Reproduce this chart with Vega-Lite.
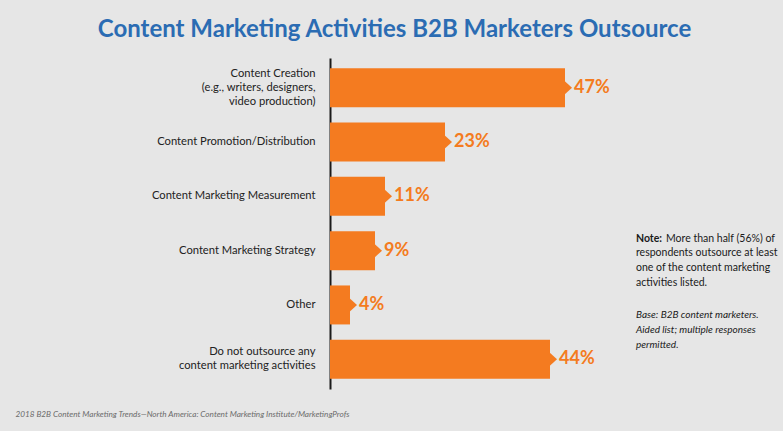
{
  "$schema": "https://vega.github.io/schema/vega-lite/v6.json",
  "autosize": "none",
  "width": 453,
  "height": 331,
  "padding": {"left": 330, "top": 58, "right": 0, "bottom": 42},
  "background": "#e6e6e6",
  "config": {"view": {"stroke": null}},
  "title": {
    "text": "Content Marketing Activities B2B Marketers Outsource",
    "font": "Lato", "fontSize": 24, "fontWeight": "bold", "color": "#2b6cb3",
    "anchor": "middle", "frame": "group", "dx": -162, "dy": 23, "offset": 20, "baseline": "alphabetic"
  },
  "datasets": {
    "main": [
      {"activity": "Content Creation\n(e.g., writers, designers,\nvideo production)", "share": 0.47},
      {"activity": "Content Promotion/Distribution", "share": 0.23},
      {"activity": "Content Marketing Measurement", "share": 0.11},
      {"activity": "Content Marketing Strategy", "share": 0.09},
      {"activity": "Other", "share": 0.04},
      {"activity": "Do not outsource any\ncontent marketing activities", "share": 0.44}
    ]
  },
  "layer": [
    {
      "data": {"name": "main"},
      "mark": {"type": "bar", "color": "#f47b20"},
      "encoding": {
        "y": {
          "field": "activity", "type": "nominal", "sort": null,
          "scale": {"paddingInner": 0.282, "paddingOuter": 0.189},
          "axis": {
            "title": null, "domain": true, "domainColor": "#1a1a1a", "domainWidth": 2,
            "ticks": false, "grid": false, "labelFont": "Lato", "labelFontSize": 11.2,
            "labelColor": "#222222", "labelPadding": 15, "labelLineHeight": 14, "labelLimit": 0,
            "labelExpr": "split(datum.label, '\\n')",
            "labelOffset": {
              "condition": [
                {"test": "length(split(datum.value, '\\n')) == 3", "value": -14},
                {"test": "length(split(datum.value, '\\n')) == 2", "value": -7}
              ],
              "value": 0
            }
          }
        },
        "x": {
          "field": "share", "type": "quantitative",
          "scale": {"domain": [0, 0.906], "nice": false},
          "axis": {
            "labels": false, "ticks": false, "domain": false, "grid": false,
            "title": "2018 B2B Content Marketing Trends\u2014North America: Content Marketing Institute/MarketingProfs",
            "titleX": -315, "titleY": 25, "titleAlign": "left", "titleBaseline": "middle",
            "titleFont": "Lato", "titleFontStyle": "italic", "titleFontWeight": "normal",
            "titleFontSize": 8.2, "titleColor": "#6b6b6b"
          }
        }
      }
    },
    {
      "data": {"name": "main"},
      "mark": {"type": "point", "shape": "M -0.1 -1 L 1 0 L -0.1 1 Z", "size": 196, "filled": true, "color": "#f47b20", "opacity": 1},
      "encoding": {
        "y": {"field": "activity", "type": "nominal", "sort": null},
        "x": {"field": "share", "type": "quantitative"}
      }
    },
    {
      "data": {"name": "main"},
      "mark": {"type": "text", "align": "left", "baseline": "middle", "dx": 9, "font": "Lato", "fontSize": 18, "fontWeight": "bold", "color": "#f47b20"},
      "encoding": {
        "y": {"field": "activity", "type": "nominal", "sort": null},
        "x": {"field": "share", "type": "quantitative"},
        "text": {"field": "share", "type": "quantitative", "format": ".0%"}
      }
    },
    {
      "data": {"values": [{"note": "Note:"}]},
      "mark": {"type": "text", "align": "left", "baseline": "middle", "dy": -12, "font": "Lato", "fontSize": 10.5, "fontWeight": "bold", "color": "#1a1a1a"},
      "encoding": {
        "x": {"datum": 0.612, "type": "quantitative"},
        "y": {"datum": "Content Marketing Strategy", "type": "nominal"},
        "text": {"field": "note"}
      }
    },
    {
      "data": {"values": [{"note": "More than half (56%) of"}]},
      "mark": {"type": "text", "align": "left", "baseline": "middle", "dy": -12, "dx": 30, "font": "Lato", "fontSize": 10.5, "color": "#1a1a1a"},
      "encoding": {
        "x": {"datum": 0.612, "type": "quantitative"},
        "y": {"datum": "Content Marketing Strategy", "type": "nominal"},
        "text": {"field": "note"}
      }
    },
    {
      "data": {"values": [{"note": "respondents outsource at least\none of the content marketing\nactivities listed."}]},
      "mark": {"type": "text", "align": "left", "baseline": "top", "dy": -3, "lineBreak": "\n", "lineHeight": 15, "font": "Lato", "fontSize": 10.5, "color": "#1a1a1a"},
      "encoding": {
        "x": {"datum": 0.612, "type": "quantitative"},
        "y": {"datum": "Content Marketing Strategy", "type": "nominal"},
        "text": {"field": "note"}
      }
    },
    {
      "data": {"values": [{"note": "Base: B2B content marketers.\nAided list; multiple responses\npermitted."}]},
      "mark": {"type": "text", "align": "left", "baseline": "top", "dy": 59, "lineBreak": "\n", "lineHeight": 15, "font": "Lato", "fontSize": 10, "fontStyle": "italic", "color": "#1a1a1a"},
      "encoding": {
        "x": {"datum": 0.612, "type": "quantitative"},
        "y": {"datum": "Content Marketing Strategy", "type": "nominal"},
        "text": {"field": "note"}
      }
    }
  ]
}
